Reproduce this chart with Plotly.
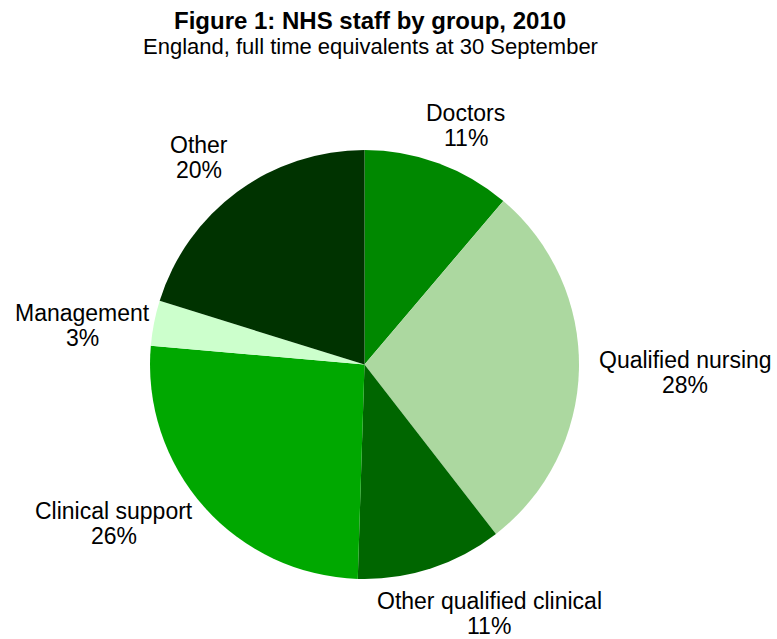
import plotly.graph_objects as go

# Data (percent of full time equivalents)
groups = ["Doctors", "Qualified nursing", "Other qualified clinical",
          "Clinical support", "Management", "Other"]
shares = [11.2, 28.3, 11.0, 25.9, 3.4, 20.2]
colors = ["#008800", "#acd8a0", "#006600", "#00a800", "#ccffcc", "#003300"]

title = "Figure 1: NHS staff by group, 2010"
subtitle = "England, full time equivalents at 30 September"

# Layout: label block centres (pixels from top-left) of the first line
label_pos = [(466, 113), (685, 360), (489, 601), (114, 511), (82, 313), (199, 145)]
LINE_GAP = 25

W, H = 777, 639
cx, cy, R = 364.5, 364.5, 214.5
FONT = "Liberation Sans, Arial, sans-serif"

fig = go.Figure(go.Pie(
    labels=groups,
    values=shares,
    sort=False,
    direction="clockwise",
    rotation=0,
    marker=dict(colors=colors, line=dict(width=0)),
    textinfo="none",
    domain=dict(x=[(cx - R) / W, (cx + R) / W], y=[1 - (cy + R) / H, 1 - (cy - R) / H]),
    showlegend=False,
    hoverinfo="label+percent",
))

total = sum(shares)
for name, val, (lx, ly) in zip(groups, shares, label_pos):
    pct = f"{round(100 * val / total):d}%"
    for i, txt in enumerate([name, pct]):
        fig.add_annotation(text=txt, x=lx / W, y=1 - (ly + i * LINE_GAP) / H,
                           xref="paper", yref="paper", xanchor="center", yanchor="middle",
                           showarrow=False,
                           font=dict(family=FONT, size=23, color="#000000"))

fig.add_annotation(text="<b>" + title + "</b>", x=370 / W, y=1 - 20.5 / H,
                   xref="paper", yref="paper", xanchor="center", yanchor="middle",
                   showarrow=False,
                   font=dict(family=FONT, size=24, color="#000000"))
fig.add_annotation(text=subtitle, x=370 / W, y=1 - 46.5 / H,
                   xref="paper", yref="paper", xanchor="center", yanchor="middle",
                   showarrow=False,
                   font=dict(family=FONT, size=22, color="#000000"))

fig.update_layout(
    width=W, height=H,
    margin=dict(l=0, r=0, t=0, b=0),
    paper_bgcolor="#ffffff",
    plot_bgcolor="#ffffff",
)

fig.write_html("out.html", config={"displayModeBar": False},
               post_script="document.body.style.margin='0px';")
